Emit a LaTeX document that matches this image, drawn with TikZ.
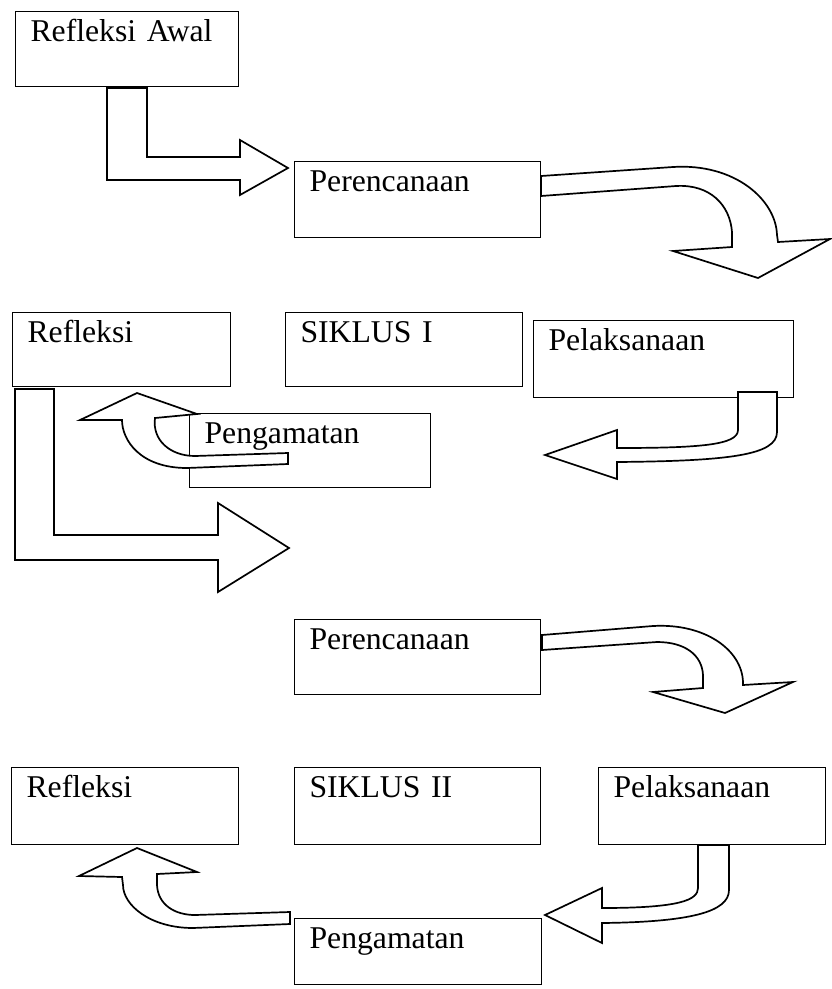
\documentclass[tikz,border=0pt]{standalone}
\usepackage{fontspec}
\setmainfont{Liberation Serif}
\usepackage{tikz}

\begin{document}
\begin{tikzpicture}[
    x=1pt, y=-1pt,
    box/.style={draw, line width=1.1pt, anchor=north west, align=left,
                inner xsep=15pt, inner ysep=0pt, text height=30pt,
                font=\fontsize{31.7}{38}\selectfont},
    blok/.style={draw, fill=white, line width=1.7pt, line join=miter}
  ]
  \useasboundingbox (0,0) rectangle (831,989);

  % siklus I
  \node[box, text width=193pt, text depth=45pt] (awal)  at (15,11)  {Refleksi Awal};
  \node[box, text width=216pt, text depth=46pt] (renc1) at (294,161) {Perencanaan};
  \node[box, text width=188pt, text depth=44pt] (refl1) at (12,312)  {Refleksi};
  \node[box, text width=207pt, text depth=44pt] (sik1)  at (285,312) {SIKLUS I};
  \node[box, text width=230pt, text depth=47pt] (pel1)  at (533,320) {Pelaksanaan};
  \node[box, text width=211pt, text depth=44pt] (peng1) at (189,413) {Pengamatan};

  % siklus II
  \node[box, text width=216pt, text depth=45pt] (renc2) at (294,619) {Perencanaan};
  \node[box, text width=197pt, text depth=47pt] (refl2) at (11,767)  {Refleksi};
  \node[box, text width=216pt, text depth=47pt] (sik2)  at (294,767) {SIKLUS II};
  \node[box, text width=197pt, text depth=47pt] (pel2)  at (598,767) {Pelaksanaan};
  \node[box, text width=217pt, text depth=36pt] (peng2) at (294,918) {Pengamatan};

  % panah blok
  \draw[blok] (107,88) -- (147,88) -- (147,157) -- (240,157) -- (240,140)
    -- (288,168) -- (240,195) -- (240,180) -- (107,180) -- cycle;
  \draw[blok] (541,176) -- (673,167) .. controls (735,163) and (776,200) .. (777,235)
    -- (778,242) -- (830,239) -- (758,278) -- (673,251) -- (732,247) -- (732,232)
    .. controls (730,205) and (710,184) .. (676,186) -- (541,196) -- cycle;
  \draw[blok] (738,392) -- (777,392) -- (777,432) .. controls (777,455) and (730,461) .. (617,462)
    -- (617,479) -- (545,455) -- (617,430) -- (617,448)
    .. controls (700,448) and (738,445) .. (738,430) -- cycle;
  \draw[blok] (288,464) -- (187,468) .. controls (140,468) and (122,440) .. (122,420)
    -- (80,420) -- (137,393) -- (197,414) -- (155,418)
    .. controls (152,440) and (170,456) .. (195,456) -- (288,453) -- cycle;
  \draw[blok] (15,389) -- (54,389) -- (54,535) -- (218,535) -- (218,503)
    -- (289,548) -- (218,592) -- (218,560) -- (15,560) -- cycle;
  \draw[blok] (542,635) -- (653,626) .. controls (705,623) and (742,650) .. (743,682)
    -- (743,685) -- (793,682) -- (725,713) -- (653,692) -- (703,688) -- (703,675)
    .. controls (702,655) and (685,642) .. (657,642) -- (542,650) -- cycle;
  \draw[blok] (698,845) -- (729,845) -- (729,890) .. controls (729,912) and (690,922) .. (602,923)
    -- (602,943) -- (545,915) -- (602,888) -- (602,908)
    .. controls (680,908) and (698,900) .. (698,888) -- cycle;
  \draw[blok] (290,924) -- (193,928) .. controls (150,928) and (123,905) .. (123,885)
    -- (122,877) -- (79,876) -- (137,848) -- (197,872) -- (157,874) -- (157,885)
    .. controls (158,905) and (175,915) .. (195,915) -- (290,912) -- cycle;
\end{tikzpicture}
\end{document}
